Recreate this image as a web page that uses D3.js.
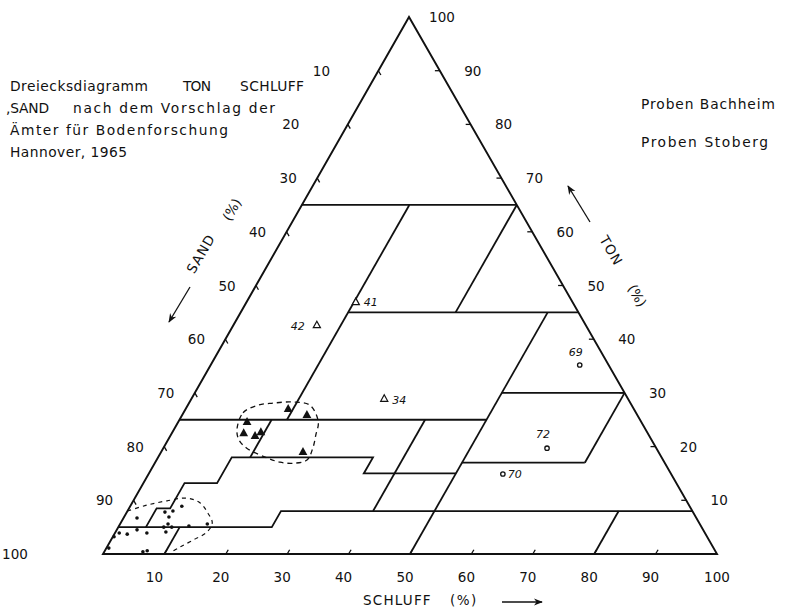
<!DOCTYPE html>
<html><head><meta charset="utf-8">
<script src="https://cdn.jsdelivr.net/npm/d3@7"></script>
<style>
body{margin:0;background:#fff}
text{font-family:"DejaVu Sans",sans-serif;fill:#111}
</style>
</head><body><svg id="c" width="785" height="608"></svg>
<script>
// ---------- DATA (schluff %, ton %; sand = 100 - schluff - ton) ----------
const axisTicks = [10,20,30,40,50,60,70,80,90,100];

const titleLines = ["Dreiecksdiagramm", "TON", "SCHLUFF", ",SAND", "nach dem Vorschlag der", "Ämter für Bodenforschung", "Hannover, 1965"];
const legendLabels = ["Proben Bachheim", "Proben Stoberg"];

// class boundaries as polylines of [schluff, ton]
const boundaryT65 = [[0,65],[35,65]];
const boundaryU17 = [[17.5,25],[17.5,65]];
const boundaryU35 = [[35,45],[35,65]];
const boundaryT45 = [[17.5,45],[55,45]];
const boundaryU50 = [[50,0],[50,45]];
const boundaryT30 = [[50,30],[70,30]];
const boundaryU70 = [[70,17],[70,30]];
const boundaryT17 = [[50,17],[70,17]];
const boundaryT25 = [[0,25],[50,25]];
const boundaryU15 = [[15,18],[15,25]];
const boundaryStairs = [[4.5,5],[4.5,8.5],[6.7,8.5],[6.7,13.2],[12,13.2],[12,18],[35,18],[35,15],[50,15]];
const boundaryU40 = [[40,8],[40,25]];
const boundaryT8 = [[0,5],[25,5],[25,8],[92,8]];
const boundaryU10 = [[10,0],[10,5]];
const boundaryU80 = [[80,0],[80,8]];

// samples
const openTriLabels = ["41","42","34"];
const openTriSchluff = [17.8,13.6,31.4];
const openTriTon = [46.9,42.6,28.9];

const openCircLabels = ["69","72","70"];
const openCircSchluff = [60.1,62.5,57.7];
const openCircTon = [35.2,19.7,14.9];

const filledTriSchluff = [16.7,20.3,11.2,11.7,13.8,14.4,23.1];
const filledTriTon = [27.0,25.9,24.6,22.5,22.0,22.7,19.0];

const dotSchluff = [8.4,7.4,6.2,7.3,2.2,7.8,7.4,8.7,11.4,14.2,8.2,5.2,3.3,2.1,0.7,0.2,0.4,6.3,6.9];
const dotTon = [8.9,8.0,7.8,6.9,6.7,5.6,5.0,5.0,5.2,5.6,4.1,3.9,4.5,3.7,3.9,3.2,1.1,0.4,0.6];

// dashed group envelopes
const envTriSchluff = [10.3,9.7,11.4,13.7,16.7,19.9,22.8,23.6,24.3,24.5,22.5,20.3,17.8,13.6,11.6];
const envTriTon = [23.1,26.3,27.7,28.1,28.3,27.7,24.6,22.2,19.9,17.5,16.9,17.1,17.9,19.7,21.2];
const envDotSchluff = [0,2.6,5.5,8.5,11.1,13.3,14.9,14.9,13.4,11.9,10.8];
const envDotTon = [8.0,9.1,9.9,10.4,9.5,7.6,5.8,4.1,2.6,1.3,0.2];

// ---------- LAYOUT ----------
const svg = d3.select("#c");
const A = {x:103, y:554}, B = {x:717, y:554}, C = {x:409, y:17};
const sU = d3.scaleLinear().domain([0,100]).range([0, B.x - A.x]);
const sTx = d3.scaleLinear().domain([0,100]).range([0, C.x - A.x]);
const sTy = d3.scaleLinear().domain([0,100]).range([A.y, C.y]);
const proj = (u,t) => [A.x + sU(u) + sTx(t), sTy(t)];
const line = d3.line().x(d => proj(d[0],d[1])[0]).y(d => proj(d[0],d[1])[1]);

// triangle frame
svg.append("path").attr("d", line([[0,0],[100,0],[0,100]]) + "Z")
  .attr("fill","none").attr("stroke","#111").attr("stroke-width",1.9).attr("stroke-linejoin","miter");

// boundaries
[boundaryT65,boundaryU17,boundaryU35,boundaryT45,boundaryU50,boundaryT30,boundaryU70,boundaryT17,
 boundaryT25,boundaryU15,boundaryStairs,boundaryU40,boundaryT8,boundaryU10,boundaryU80].forEach(b => {
  svg.append("path").attr("d", line(b)).attr("fill","none").attr("stroke","#111")
    .attr("stroke-width",1.8).attr("stroke-linejoin","miter");
});

// ticks
const tk = 0.8;
axisTicks.filter(v => v < 100).forEach(v => {
  svg.append("path").attr("d", line([[v,0],[v,tk]])).attr("stroke","#111").attr("stroke-width",1.3);
  svg.append("path").attr("d", line([[100-v,v],[100-v-tk,v]])).attr("stroke","#111").attr("stroke-width",1.3);
  svg.append("path").attr("d", line([[0,100-v],[tk,100-v-tk]])).attr("stroke","#111").attr("stroke-width",1.3);
});

const fs = 13.5;
// bottom labels (schluff)
axisTicks.forEach(v => {
  const p = proj(v,0);
  const dx = v === 100 ? 0 : (v === 10 ? -10 : -5);
  svg.append("text").attr("x", p[0] + dx).attr("y", 582).attr("text-anchor","middle")
    .attr("font-size", fs).text(v);
});
// right labels (ton)
axisTicks.forEach(v => {
  const p = proj(100-v, v);
  svg.append("text").attr("x", p[0] + 33).attr("y", p[1] + 5).attr("text-anchor","middle")
    .attr("font-size", fs).text(v);
});
// left labels (sand)
const sandShift = {10:-57, 20:-57, 100:-88};
axisTicks.forEach(v => {
  const p = proj(0, 100-v);
  const dx = sandShift[v] !== undefined ? sandShift[v] : -29;
  svg.append("text").attr("x", p[0] + dx).attr("y", p[1] + 5).attr("text-anchor","middle")
    .attr("font-size", fs).text(v);
});

// axis titles
svg.append("text").attr("x",363).attr("y",605).attr("font-size",13.5).attr("letter-spacing",1.2).text("SCHLUFF");
svg.append("text").attr("x",450).attr("y",605).attr("font-size",13.5).attr("letter-spacing",1.5).text("(%)");
svg.append("text").attr("transform","translate(205,256) rotate(-60)").attr("text-anchor","middle")
  .attr("font-size",13.5).attr("letter-spacing",1).text("SAND");
svg.append("text").attr("transform","translate(236,212) rotate(-60)").attr("text-anchor","middle")
  .attr("font-size",13.5).text("(%)");
svg.append("text").attr("transform","translate(607,253) rotate(60)").attr("text-anchor","middle")
  .attr("font-size",13.5).attr("letter-spacing",1).text("TON");
svg.append("text").attr("transform","translate(633,298) rotate(60)").attr("text-anchor","middle")
  .attr("font-size",13.5).text("(%)");

// arrows
svg.append("defs").append("marker").attr("id","ah").attr("viewBox","0 0 10 10")
  .attr("refX",9).attr("refY",5).attr("markerWidth",7).attr("markerHeight",7).attr("orient","auto")
  .append("path").attr("d","M0,1 L10,5 L0,9 L3,5 Z").attr("fill","#111");
[[502,602,542,602],[190,287,169,322],[590,222,568,186]].forEach(a => {
  svg.append("line").attr("x1",a[0]).attr("y1",a[1]).attr("x2",a[2]).attr("y2",a[3])
    .attr("stroke","#111").attr("stroke-width",1.3).attr("marker-end","url(#ah)");
});

// title block
const tfs = 13.8;
const tt = (x,y,s,w) => {
  const t = svg.append("text").attr("x",x).attr("y",y).attr("font-size",tfs).text(s);
  if (w) t.attr("textLength", w).attr("lengthAdjust","spacing");
  return t;
};
tt(10,91,titleLines[0],138); tt(183,91,titleLines[1],28); tt(240,91,titleLines[2],64);
tt(6,113,titleLines[3],43); tt(73,113,titleLines[4],202);
tt(10,135,titleLines[5],218); tt(10,157,titleLines[6],117);
// legend
tt(641,109,legendLabels[0],134);
tt(641,147,legendLabels[1],127);

// envelopes (dashed)
const envLineClosed = d3.line().curve(d3.curveCatmullRomClosed).x(d=>proj(d[0],d[1])[0]).y(d=>proj(d[0],d[1])[1]);
const envLineOpen = d3.line().curve(d3.curveCatmullRom).x(d=>proj(d[0],d[1])[0]).y(d=>proj(d[0],d[1])[1]);
svg.append("path").attr("d", envLineClosed(envTriSchluff.map((u,i)=>[u,envTriTon[i]])))
  .attr("fill","none").attr("stroke","#111").attr("stroke-width",1.3).attr("stroke-dasharray","5,4");
svg.append("path").attr("d", envLineOpen(envDotSchluff.map((u,i)=>[u,envDotTon[i]])))
  .attr("fill","none").attr("stroke","#111").attr("stroke-width",1.2).attr("stroke-dasharray","4,4");

// markers
const triPath = (s) => `M0,${-s*0.62}L${s*0.55},${s*0.38}L${-s*0.55},${s*0.38}Z`;
filledTriSchluff.forEach((u,i) => {
  const p = proj(u, filledTriTon[i]);
  svg.append("path").attr("d", triPath(8)).attr("transform",`translate(${p[0]},${p[1]})`).attr("fill","#111");
});
const triLabOff = {"41":[15,4],"42":[-19,5],"34":[15,5]};
openTriSchluff.forEach((u,i) => {
  const p = proj(u, openTriTon[i]);
  svg.append("path").attr("d", triPath(6.5)).attr("transform",`translate(${p[0]},${p[1]})`)
    .attr("fill","#fff").attr("stroke","#111").attr("stroke-width",1.2);
  const o = triLabOff[openTriLabels[i]];
  svg.append("text").attr("x",p[0]+o[0]).attr("y",p[1]+o[1]).attr("text-anchor","middle")
    .attr("font-size",11).attr("font-style","italic").text(openTriLabels[i]);
});
const circLabOff = {"69":[-4,-9],"72":[-4,-10],"70":[12,4]};
openCircSchluff.forEach((u,i) => {
  const p = proj(u, openCircTon[i]);
  svg.append("circle").attr("cx",p[0]).attr("cy",p[1]).attr("r",2.2)
    .attr("fill","#fff").attr("stroke","#111").attr("stroke-width",1.3);
  const o = circLabOff[openCircLabels[i]];
  svg.append("text").attr("x",p[0]+o[0]).attr("y",p[1]+o[1]).attr("text-anchor","middle")
    .attr("font-size",11).attr("font-style","italic").text(openCircLabels[i]);
});
dotSchluff.forEach((u,i) => {
  const p = proj(u, dotTon[i]);
  svg.append("circle").attr("cx",p[0]).attr("cy",p[1]).attr("r",1.8).attr("fill","#111");
});
</script>
</body></html>
